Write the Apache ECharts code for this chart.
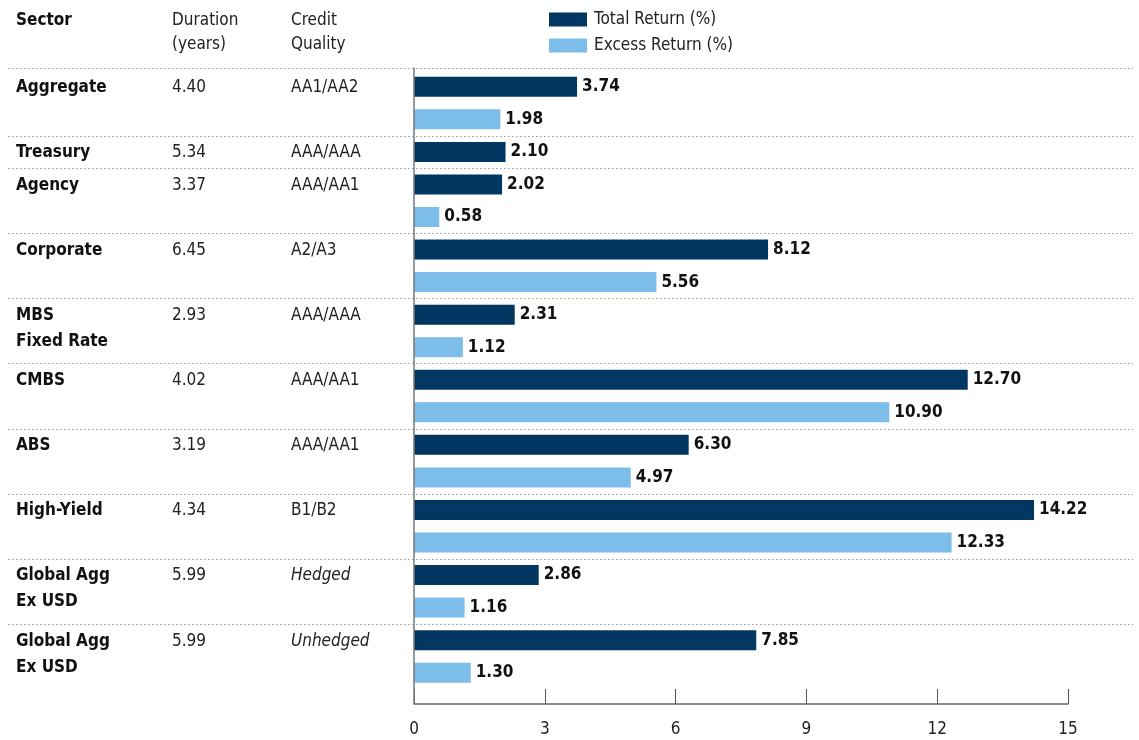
<!DOCTYPE html>
<html>
<head>
<meta charset="utf-8">
<script src="https://cdn.jsdelivr.net/npm/echarts@6/dist/echarts.min.js"></script>
<style>html,body{margin:0;padding:0;background:#fff;}#c{width:1139px;height:740px;}</style>
</head>
<body>
<div id="c"></div>
<script>
const sectors = ['Aggregate','Treasury','Agency','Corporate','MBS\nFixed Rate','CMBS','ABS','High-Yield','Global Agg\nEx USD','Global Agg\nEx USD'];
const durations = ['4.40','5.34','3.37','6.45','2.93','4.02','3.19','4.34','5.99','5.99'];
const quality = ['AA1/AA2','AAA/AAA','AAA/AA1','A2/A3','AAA/AAA','AAA/AA1','AAA/AA1','B1/B2','Hedged','Unhedged'];
const totalReturn = [3.74,2.10,2.02,8.12,2.31,12.70,6.30,14.22,2.86,7.85];
const excessReturn = [1.98,null,0.58,5.56,1.12,10.90,4.97,12.33,1.16,1.30];
const xTicks = [0,3,6,9,12,15];

const FONT = '"Liberation Sans Narrow","DejaVu Sans Condensed","Roboto Condensed",sans-serif';
const NAVY = '#023761';
const LIGHT = '#7cbde9';

// build slots
const slots = [], totalData = [], excessData = [], groupStart = [];
sectors.forEach((s,i)=>{
  groupStart.push(slots.length);
  slots.push('t'+i); totalData.push(totalReturn[i]); excessData.push('-');
  if (excessReturn[i] != null) { slots.push('e'+i); totalData.push('-'); excessData.push(excessReturn[i]); }
});

const chart = echarts.init(document.getElementById('c'));
const labelCfg = {show:true, position:'right', distance:5, fontFamily:FONT, fontSize:17, fontWeight:'bold', color:'#111', formatter:p=>Number(p.value).toFixed(2)};
chart.setOption({
  animation:false,
  textStyle:{fontFamily:FONT},
  legend:{orient:'vertical', left:544, top:6, itemWidth:38, itemHeight:14, itemGap:9,
    icon:'rect', textStyle:{fontFamily:FONT, fontSize:17, color:'#222', lineHeight:17, padding:[0,0,0,2]},
    data:['Total Return (%)','Excess Return (%)']},
  grid:{left:414, right:71, top:70.5, bottom:51},
  xAxis:{type:'value', min:xTicks[0], max:xTicks[xTicks.length-1], interval:3, offset:15,
    splitLine:{show:false},
    axisLine:{show:true, lineStyle:{color:'#666', width:1.5}},
    axisTick:{show:true, inside:true, length:15, lineStyle:{color:'#555', width:1}},
    axisLabel:{fontFamily:FONT, fontSize:17, color:'#222', margin:17}},
  yAxis:{type:'category', inverse:true, data:slots, show:false},
  series:[
    {name:'Total Return (%)', type:'bar', data:totalData, barWidth:20, barGap:'-100%', itemStyle:{color:NAVY}, label:labelCfg},
    {name:'Excess Return (%)', type:'bar', data:excessData, barWidth:20, barGap:'-100%', itemStyle:{color:LIGHT}, label:labelCfg}
  ]
});

function drawGraphics(){
  const y0 = chart.convertToPixel({yAxisIndex:0}, 0);
  const y1 = chart.convertToPixel({yAxisIndex:0}, 1);
  const h = y1 - y0;
  const x0 = chart.convertToPixel({xAxisIndex:0}, 0);
  const rect = chart.getModel().getComponent('grid').coordinateSystem.getRect();
  const gb = rect.y + rect.height + 15;
  const els = [];
  const hdr = {fontFamily:FONT, fontSize:17, fill:'#222', lineHeight:24};
  els.push({type:'text', left:16, top:9, style:Object.assign({}, hdr, {text:'Sector', fontWeight:'bold', fill:'#111'})});
  els.push({type:'text', left:172, top:9, style:Object.assign({}, hdr, {text:'Duration\n(years)'})});
  els.push({type:'text', left:291, top:9, style:Object.assign({}, hdr, {text:'Credit\nQuality'})});
  // separators
  const sepYs = [y0 - h/2 - 2.5];
  for (let g=1; g<groupStart.length; g++) sepYs.push(chart.convertToPixel({yAxisIndex:0}, groupStart[g]) - h/2);
  sepYs.forEach(y=>{
    els.push({type:'line', shape:{x1:8, y1:Math.round(y)+0.5, x2:1133, y2:Math.round(y)+0.5}, style:{stroke:'#999', lineWidth:1, lineDash:[1.5,2.5]}, z:1});
  });
  // row text
  sectors.forEach((s,i)=>{
    const cy = chart.convertToPixel({yAxisIndex:0}, groupStart[i]);
    const ty = cy - 12;
    els.push({type:'text', x:16, y:ty, style:{text:s, fontFamily:FONT, fontSize:17, fontWeight:'bold', fill:'#111', lineHeight:26}});
    els.push({type:'text', x:172, y:ty, style:{text:durations[i], fontFamily:FONT, fontSize:17, fill:'#222', lineHeight:26}});
    const ital = quality[i].indexOf('/') < 0;
    els.push({type:'text', x:291, y:ty, style:{text:quality[i], fontFamily:FONT, fontSize:17, fontStyle: ital?'italic':'normal', fill:'#222', lineHeight:26}});
  });
  // vertical axis line
  els.push({type:'line', shape:{x1:x0, y1:y0 - h/2 - 3, x2:x0, y2:gb}, style:{stroke:'#777', lineWidth:1.5}, z:10});
  chart.setOption({graphic:{elements:els}});
}
drawGraphics();
</script>
</body>
</html>
